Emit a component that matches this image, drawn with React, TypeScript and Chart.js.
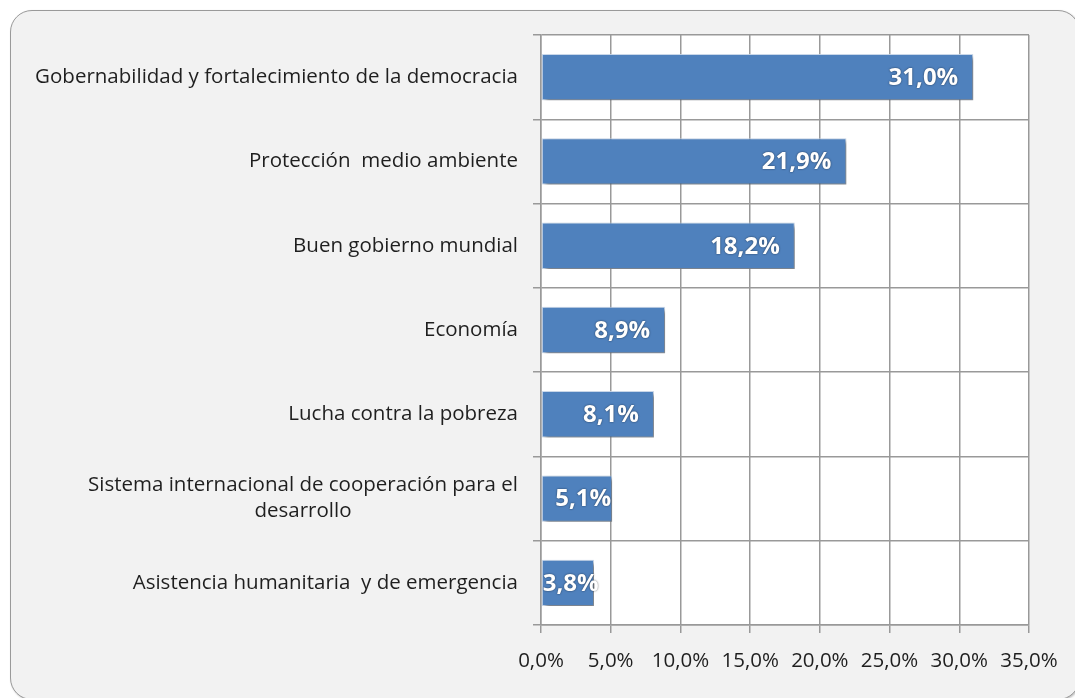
import React, { useEffect, useRef } from "react";
import { Chart, registerables } from "chart.js";

Chart.register(...registerables);

const categories: (string | string[])[] = [
  "Gobernabilidad y fortalecimiento de la democracia",
  "Protección  medio ambiente",
  "Buen gobierno mundial",
  "Economía",
  "Lucha contra la pobreza",
  ["Sistema internacional de cooperación para el", "desarrollo"],
  "Asistencia humanitaria  y de emergencia",
];
const values = [31.0, 21.9, 18.2, 8.9, 8.1, 5.1, 3.8];
const axisMin = 0;
const axisMax = 35;
const axisStep = 5;

const fmt = (v: number) => v.toFixed(1).replace(".", ",") + "%";

const W = 1075;
const H = 698;

export default function App() {
  const ref = useRef<HTMLCanvasElement | null>(null);

  useEffect(() => {
    if (!ref.current) return;
    const plotBg = {
      id: "plotBg",
      beforeDraw(chart: any) {
        const { ctx, chartArea } = chart;
        ctx.save();
        ctx.fillStyle = "#ffffff";
        ctx.fillRect(
          chartArea.left,
          chartArea.top,
          chartArea.right - chartArea.left,
          chartArea.bottom - chartArea.top
        );
        ctx.restore();
      },
    };
    const barFx = {
      id: "barFx",
      beforeDatasetsDraw(chart: any) {
        const ctx = chart.ctx;
        ctx.save();
        ctx.shadowColor = "rgba(0,0,0,0.45)";
        ctx.shadowOffsetX = 3;
        ctx.shadowOffsetY = 3;
        ctx.shadowBlur = 4;
      },
      afterDatasetsDraw(chart: any) {
        const ctx = chart.ctx;
        ctx.restore();
        const meta = chart.getDatasetMeta(0);
        ctx.save();
        ctx.font = "bold 24px 'Open Sans'";
        ctx.textBaseline = "middle";
        ctx.textAlign = "left";
        meta.data.forEach((bar: any, i: number) => {
          const txt = fmt(values[i]);
          const w = ctx.measureText(txt).width;
          const len = bar.x - bar.base;
          const right = len >= w + 30 ? bar.x - 15 : bar.x - 1;
          const x = Math.max(bar.base + 1, right - w);
          ctx.shadowColor = "rgba(0,0,0,0.6)";
          ctx.shadowBlur = 2;
          ctx.shadowOffsetX = 0;
          ctx.shadowOffsetY = 0;
          ctx.fillStyle = "#ffffff";
          ctx.fillText(txt, x, bar.y + 1);
        });
        ctx.restore();
      },
    };
    const yLabels = {
      id: "yLabels",
      afterDraw(chart: any) {
        const ctx = chart.ctx;
        const ys = chart.scales.y;
        ctx.save();
        ctx.font = "20.5px 'Open Sans'";
        ctx.fillStyle = "#1f1f1f";
        ctx.textBaseline = "middle";
        ctx.textAlign = "center";
        const right = ys.right - 8 - 15;
        categories.forEach((c, i) => {
          const lines = Array.isArray(c) ? c : [c];
          const maxW = Math.max(...lines.map((l) => ctx.measureText(l).width));
          const cx = right - maxW / 2;
          const lh = 26;
          const yc = ys.getPixelForValue(i);
          lines.forEach((l, k) => {
            const y = yc + (k - (lines.length - 1) / 2) * lh;
            ctx.fillText(l, cx, y);
          });
        });
        ctx.restore();
      },
    };

    const gridColor = "#999999";
    const chart = new Chart(ref.current, {
      type: "bar",
      data: {
        labels: categories.map((c) => (Array.isArray(c) ? c.join(" ") : c)),
        datasets: [
          {
            data: values,
            backgroundColor: "#4F81BD",
            borderColor: "rgba(200,215,235,0.9)",
            borderWidth: 1,
            borderSkipped: false,
            barPercentage: 0.55,
            categoryPercentage: 1,
          },
        ],
      },
      options: {
        indexAxis: "y",
        responsive: false,
        animation: false,
        devicePixelRatio: 1,
        layout: { padding: { left: 10, top: 35, right: 46, bottom: 0 } },
        plugins: {
          legend: { display: false },
          tooltip: { enabled: false },
        },
        scales: {
          x: {
            min: axisMin,
            max: axisMax,
            ticks: {
              stepSize: axisStep,
              callback: (v: any) => fmt(Number(v)),
              font: { family: "'Open Sans'", size: 20.5 },
              color: "#1f1f1f",
              padding: 16,
              maxRotation: 0,
            },
            grid: { color: gridColor, lineWidth: 1.5, tickLength: 8 },
            border: { color: gridColor, width: 1.5 },
            afterFit(scale: any) {
              scale.height = H - 625;
            },
          },
          y: {
            ticks: { display: false },
            grid: { color: gridColor, lineWidth: 1.5, tickLength: 8, offset: true },
            border: { color: gridColor, width: 1.5 },
            afterFit(scale: any) {
              scale.width = 541 - 10;
            },
          },
        },
      },
      plugins: [plotBg, barFx, yLabels],
    } as any);
    return () => chart.destroy();
  }, []);

  return (
    <div
      style={{
        position: "absolute",
        left: 0,
        top: 0,
        width: W,
        height: H,
        background: "#ffffff",
        overflow: "hidden",
      }}
    >
      <div
        style={{
          position: "absolute",
          left: 10,
          top: 10,
          width: 1068,
          height: 688,
          background: "#f2f2f2",
          border: "1.5px solid #9a9a9a",
          borderRadius: 22,
          boxShadow: "1px 1px 2px rgba(0,0,0,0.25)",
        }}
      />
      <canvas
        ref={ref}
        width={W}
        height={H}
        style={{ position: "absolute", left: 0, top: 0, width: W, height: H }}
      />
    </div>
  );
}
